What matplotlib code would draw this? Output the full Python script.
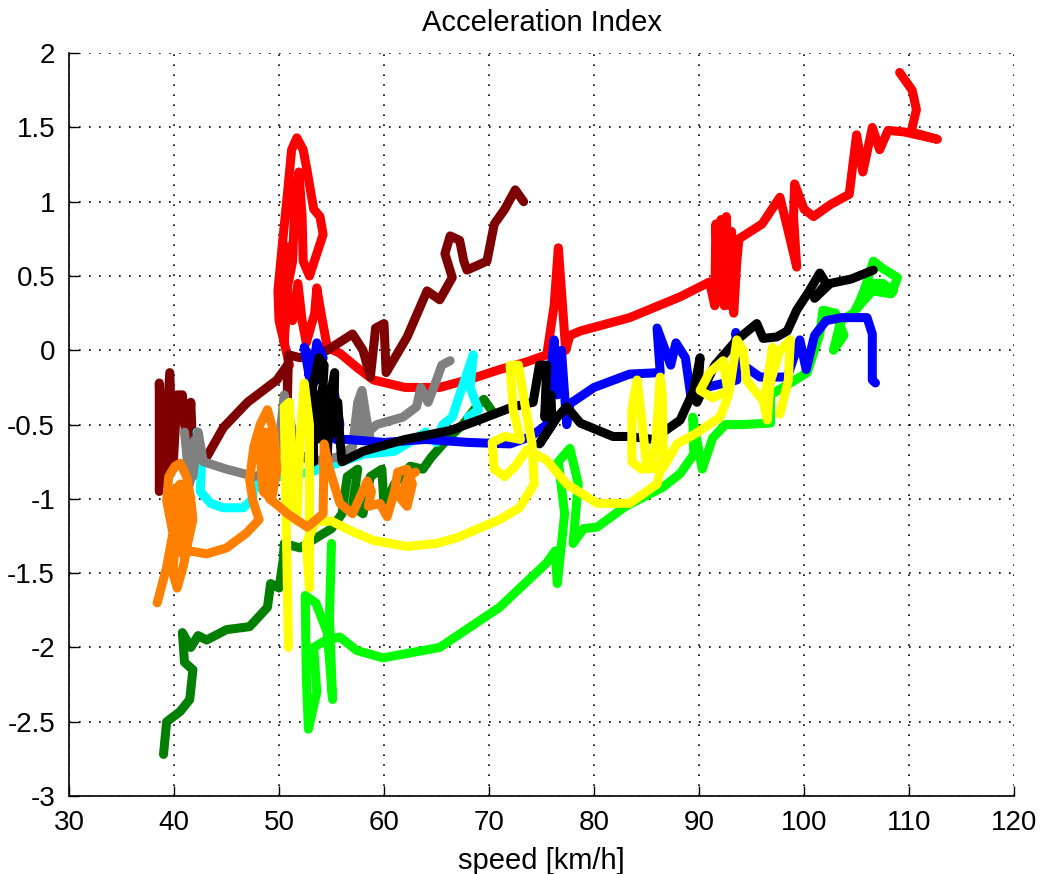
import matplotlib

matplotlib.use("Agg")
import matplotlib.pyplot as plt

plt.rcParams["font.family"] = ["Liberation Sans", "DejaVu Sans"]

# speed [km/h] / acceleration index traces
red_speed = [51.0, 50.0, 49.9, 50.3, 50.8, 51.2, 51.7, 52.3, 52.7, 53.3, 53.9, 54.2, 53.6, 52.9,
             52.3, 52.2, 51.9, 51.5, 51.3, 50.6, 50.5, 51.0, 50.4, 51.3, 51.8, 52.2, 52.6, 53.4,
             53.6, 54.0, 54.6, 55.8, 57.5, 59.0, 62.0, 65.3, 68.4, 71.0, 73.5, 75.5, 76.2, 76.6,
             77.0, 77.3, 77.7, 78.7, 83.4, 88.2, 91.0, 91.5, 91.6, 91.9, 92.1, 92.4, 92.6, 92.9,
             93.1, 93.3, 93.6, 93.8, 96.0, 97.7, 98.5, 99.3, 99.0, 99.1, 100.0, 100.9, 102.5,
             104.3, 105.0, 105.6, 106.5, 107.2, 108.0, 109.5, 112.7, 110.2, 110.7, 110.3, 109.1]
red_acc = [-0.10, 0.20, 0.40, 0.70, 1.05, 1.35, 1.43, 1.35, 1.20, 0.95, 0.90, 0.78, 0.65, 0.50,
           0.60, 0.90, 1.20, 1.00, 0.60, 0.35, 0.05, 0.70, 0.50, 0.20, 0.45, 0.20, 0.05, 0.25,
           0.42, 0.25, 0.02, -0.02, -0.12, -0.20, -0.25, -0.25, -0.19, -0.13, -0.08, -0.03, 0.30, 0.69,
           0.30, 0.00, 0.10, 0.13, 0.22, 0.36, 0.46, 0.30, 0.85, 0.35, 0.88, 0.30, 0.90, 0.30,
           0.80, 0.25, 0.60, 0.75, 0.85, 1.03, 0.80, 0.56, 0.90, 1.12, 0.95, 0.90, 0.98,
           1.05, 1.45, 1.20, 1.50, 1.35, 1.48, 1.47, 1.42, 1.47, 1.62, 1.75, 1.87]

maroon_speed = [38.6, 38.6, 38.9, 39.6, 39.9, 40.3, 40.8, 41.3, 41.6, 41.8, 43.1, 44.7, 47.0, 49.8,
                50.8, 50.8, 50.9, 52.0, 54.6, 57.0, 58.0, 58.7, 59.2, 60.0, 60.2, 62.2, 64.1, 65.3,
                66.5, 65.8, 66.3, 67.2, 67.6, 67.9, 69.8, 70.5, 71.5, 72.5, 73.3]
maroon_acc = [-0.95, -0.22, -0.90, -0.15, -0.80, -0.30, -0.30, -0.74, -0.35, -0.70, -0.72, -0.52, -0.35, -0.20,
              -0.10, -0.33, -0.03, -0.05, 0.00, 0.11, 0.00, -0.18, 0.15, 0.18, -0.15, 0.09, 0.40, 0.34,
              0.49, 0.65, 0.77, 0.74, 0.60, 0.54, 0.60, 0.85, 0.95, 1.08, 1.00]

dkgreen_speed = [39.0, 39.3, 40.6, 41.5, 41.8, 41.0, 40.8, 41.6, 42.3, 43.1, 45.0, 47.2, 48.9, 49.2,
                 50.0, 50.4, 50.5, 52.0, 55.0, 56.0, 56.5, 57.5, 57.0, 58.0, 58.7, 59.8, 60.0, 61.0,
                 62.5, 63.7, 64.5, 66.0, 67.5, 68.8, 69.5, 70.4]
dkgreen_acc = [-2.72, -2.50, -2.43, -2.35, -2.15, -2.10, -1.90, -2.00, -1.92, -1.95, -1.88, -1.86, -1.73, -1.57,
               -1.60, -1.41, -1.30, -1.33, -1.20, -1.10, -0.85, -0.80, -1.05, -1.10, -0.85, -0.80, -1.05, -0.90,
               -0.78, -0.80, -0.72, -0.60, -0.50, -0.38, -0.33, -0.42]

cyan_speed = [42.2, 42.6, 42.5, 43.5, 44.7, 46.6, 47.5, 47.6, 48.0, 50.0, 53.0, 56.0, 58.0, 61.0,
              64.0, 65.0, 65.6, 66.5, 67.2, 68.5, 68.2, 69.0, 68.0]
cyan_acc = [-0.55, -0.80, -0.95, -1.03, -1.06, -1.06, -1.00, -0.85, -0.92, -0.85, -0.82, -0.75, -0.70, -0.68,
            -0.55, -0.62, -0.50, -0.45, -0.30, -0.03, -0.25, -0.40, -0.45]

gray_speed = [41.0, 41.5, 42.0, 41.3, 41.8, 42.3, 42.8, 45.0, 47.7, 49.5, 50.2, 50.5, 51.3, 52.0,
              53.0, 55.5, 57.0, 57.5, 57.9, 58.3, 58.7, 58.0, 57.7, 58.5, 59.3, 61.8, 63.1, 63.5,
              64.2, 65.0, 65.5, 66.3]
gray_acc = [-0.55, -0.90, -0.60, -0.70, -0.85, -0.55, -0.75, -0.80, -0.85, -0.80, -0.50, -0.30, -0.55, -0.70,
            -0.75, -0.72, -0.65, -0.35, -0.27, -0.45, -0.60, -0.60, -0.40, -0.55, -0.50, -0.45, -0.38, -0.25,
            -0.35, -0.20, -0.10, -0.07]

ltgreen_speed = [55.0, 54.8, 55.1, 54.6, 53.5, 52.5, 52.6, 52.8, 53.6, 53.3, 54.5, 55.8, 57.4, 59.9,
                 65.3, 71.0, 75.5, 76.3, 76.5, 77.2, 76.6, 77.7, 78.5, 78.0, 79.0, 80.3, 83.0, 86.6,
                 88.2, 89.5, 89.4, 90.3, 91.3, 92.5, 94.0, 96.8, 96.8, 98.7, 100.3, 101.5, 101.8, 103.0,
                 103.8, 102.8, 103.5, 104.7, 105.5, 106.6, 107.5, 108.9, 108.3, 106.5, 105.0, 106.0,
                 107.5, 108.5]
ltgreen_acc = [-1.30, -1.80, -2.35, -1.90, -1.70, -1.65, -2.20, -2.55, -2.30, -2.00, -1.95, -1.93, -2.02, -2.07,
               -2.00, -1.73, -1.43, -1.35, -1.57, -1.10, -0.75, -0.66, -0.90, -1.30, -1.20, -1.19, -1.05, -0.92,
               -0.83, -0.70, -0.45, -0.80, -0.59, -0.50, -0.50, -0.49, -0.30, -0.22, -0.15, 0.11, 0.27, 0.25,
               0.10, 0.00, 0.20, 0.25, 0.35, 0.60, 0.55, 0.49, 0.38, 0.40, 0.28, 0.45,
               0.45, 0.40]

blue_speed = [53.2, 52.4, 53.3, 53.6, 54.2, 53.6, 52.8, 53.5, 54.5, 55.3, 55.8, 55.4, 56.5, 60.0,
              64.0, 68.0, 72.0, 74.0, 75.5, 75.8, 76.2, 76.5, 76.9, 77.4, 77.7, 80.0, 83.4, 86.3,
              86.0, 87.3, 87.8, 88.7, 89.2, 90.7, 93.6, 93.5, 94.2, 95.8, 98.4, 99.6, 100.2, 101.0,
              102.1, 103.6, 106.0, 106.5, 106.5, 106.8]
blue_acc = [-0.30, 0.02, -0.10, 0.05, -0.05, -0.20, -0.15, -0.35, -0.30, -0.30, -0.50, -0.60, -0.60, -0.62,
            -0.60, -0.62, -0.63, -0.58, -0.50, -0.20, 0.07, -0.30, 0.00, -0.50, -0.36, -0.25, -0.16, -0.15,
            0.15, -0.10, 0.05, -0.05, -0.30, -0.25, -0.20, 0.12, -0.10, -0.18, -0.18, 0.07, -0.13, 0.10,
            0.20, 0.22, 0.22, 0.11, -0.20, -0.22]

black_speed = [53.3, 53.2, 53.8, 54.3, 54.0, 54.6, 54.9, 55.3, 55.2, 54.5, 53.8, 53.6, 54.2, 55.0,
               55.6, 55.8, 56.0, 58.0, 62.0, 66.3, 69.0, 72.3, 74.2, 74.8, 75.5, 75.3, 75.9, 76.0,
               74.8, 76.5, 77.4, 78.7, 81.8, 83.4, 85.6, 88.2, 89.5, 90.1, 89.8, 91.5, 93.6, 95.5,
               96.1, 97.4, 98.4, 99.3, 100.5, 101.5, 102.1, 101.0, 102.5, 104.5, 106.6]
black_acc = [-0.75, -0.25, -0.05, -0.10, -0.50, -0.70, -0.30, -0.15, -0.55, -0.60, -0.30, -0.60, -0.25, -0.45,
             -0.35, -0.60, -0.75, -0.68, -0.60, -0.54, -0.47, -0.38, -0.35, -0.10, -0.10, -0.45, -0.30, -0.50,
             -0.63, -0.45, -0.38, -0.49, -0.58, -0.58, -0.60, -0.47, -0.27, -0.05, -0.35, -0.10, 0.07, 0.18,
             0.08, 0.09, 0.13, 0.27, 0.40, 0.52, 0.45, 0.35, 0.45, 0.48, 0.54]

yellow_speed = [50.9, 50.7, 50.5, 51.0, 51.3, 51.7, 52.0, 52.4, 52.9, 52.9, 52.6, 53.5, 55.0, 57.0,
                59.0, 62.2, 65.0, 67.0, 69.0, 71.0, 72.9, 74.3, 74.1, 73.5, 72.8, 72.0, 72.3, 73.0,
                71.5, 70.3, 70.5, 71.5, 72.5, 73.6, 75.5, 77.4, 80.3, 83.4, 86.0, 86.6, 86.5, 86.3,
                85.9, 85.6, 85.0, 84.6, 84.1, 83.6, 83.6, 84.5, 86.6, 87.9, 89.7, 92.0, 92.8, 92.3,
                91.0, 90.1, 91.3, 92.9, 93.6, 94.2, 94.5, 96.1, 96.5, 97.0, 96.2, 97.7, 98.7, 98.5,
                97.7]
yellow_acc = [-2.00, -1.20, -0.38, -0.35, -1.00, -1.15, -0.60, -0.22, -0.50, -1.60, -1.30, -1.15, -1.15, -1.22,
              -1.28, -1.32, -1.30, -1.26, -1.20, -1.14, -1.06, -0.90, -0.63, -0.40, -0.10, -0.10, -0.40, -0.60,
              -0.58, -0.62, -0.80, -0.85, -0.78, -0.67, -0.74, -0.90, -1.03, -1.03, -0.90, -0.72, -0.30, -0.18,
              -0.60, -0.75, -0.78, -0.50, -0.20, -0.40, -0.75, -0.80, -0.79, -0.63, -0.56, -0.45, -0.30, -0.07,
              -0.15, -0.27, -0.32, -0.27, 0.07, 0.00, -0.20, -0.34, -0.47, 0.02, -0.35, 0.00, 0.07, -0.20,
              -0.43]

orange_speed = [38.4, 39.3, 39.9, 39.3, 39.5, 40.1, 40.6, 41.2, 41.6, 41.8, 41.3, 40.9, 40.3, 39.9,
                40.2, 40.0, 40.6, 41.0, 40.5, 41.0, 41.5, 43.1, 45.0, 46.9, 48.1, 47.5, 47.2, 47.6,
                48.2, 48.9, 49.5, 49.8, 49.3, 48.5, 48.2, 48.7, 49.1, 49.1, 50.0, 50.8, 52.7, 54.2,
                54.3, 54.8, 55.8, 57.0, 57.7, 58.4, 58.8, 58.5, 59.6, 60.3, 61.0, 61.3, 62.2, 62.7,
                62.2, 61.6, 62.3, 63.0]
orange_acc = [-1.70, -1.46, -1.23, -1.01, -0.85, -0.78, -0.76, -0.85, -1.00, -1.14, -1.30, -1.45, -1.60, -1.50,
              -1.20, -0.95, -0.90, -1.10, -1.35, -1.38, -1.35, -1.37, -1.33, -1.23, -1.14, -1.01, -0.87, -0.65,
              -0.50, -0.40, -0.55, -0.80, -1.00, -0.95, -0.70, -0.55, -0.80, -1.00, -1.05, -1.10, -1.19, -1.10,
              -0.63, -0.80, -1.03, -1.10, -0.99, -0.88, -0.95, -1.05, -1.03, -1.12, -0.95, -0.82, -0.80, -0.90,
              -1.05, -1.00, -0.85, -0.82]

series = [
    (red_speed, red_acc, "#ff0000"),
    (maroon_speed, maroon_acc, "#7f0000"),
    (dkgreen_speed, dkgreen_acc, "#007f00"),
    (cyan_speed, cyan_acc, "#00ffff"),
    (gray_speed, gray_acc, "#808080"),
    (ltgreen_speed, ltgreen_acc, "#00ff00"),
    (blue_speed, blue_acc, "#0000ff"),
    (black_speed, black_acc, "#000000"),
    (yellow_speed, yellow_acc, "#ffff00"),
    (orange_speed, orange_acc, "#ff8000"),
]

fig = plt.figure(figsize=(10.42, 8.74), dpi=100)
ax = fig.add_axes([0.0662, 0.0892, 0.907, 0.850])

for xs, ys, color in series:
    ax.plot(xs, ys, color=color, linewidth=6.5, solid_joinstyle="round", solid_capstyle="round")

ax.set_xlim(30, 120)
ax.set_ylim(-3, 2)
ax.set_xticks(range(30, 121, 10))
ax.set_yticks([-3, -2.5, -2, -1.5, -1, -0.5, 0, 0.5, 1, 1.5, 2])
ax.set_yticklabels(["-3", "-2.5", "-2", "-1.5", "-1", "-0.5", "0", "0.5", "1", "1.5", "2"])
ax.grid(True, color="black", linestyle=(0, (1, 5)), linewidth=1.2)
ax.set_axisbelow(True)
for side in ("top", "right"):
    ax.spines[side].set_visible(False)
ax.spines["left"].set_linewidth(1.2)
ax.spines["bottom"].set_linewidth(1.2)
ax.tick_params(direction="in", length=7, width=1, labelsize=20, pad=10)

ax.set_title("Acceleration Index", fontsize=21, pad=16)
ax.set_xlabel("speed [km/h]", fontsize=21, labelpad=8)

fig.savefig("out.png", dpi=100)
